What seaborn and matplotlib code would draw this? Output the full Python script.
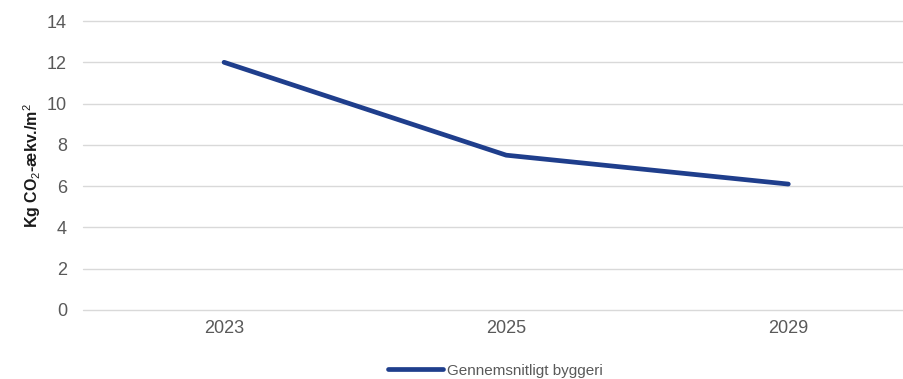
import matplotlib
matplotlib.use("Agg")
import matplotlib.pyplot as plt
import seaborn as sns
import pandas as pd
from matplotlib.lines import Line2D

years = ["2023", "2025", "2029"]
values = [12.0, 7.5, 6.1]
series_name = "Gennemsnitligt byggeri"

sns.set_theme(style="white")
plt.rcParams['font.family'] = ['Liberation Sans', 'DejaVu Sans']
plt.rcParams['mathtext.fontset'] = 'custom'
plt.rcParams['mathtext.rm'] = 'Liberation Sans'
plt.rcParams['mathtext.it'] = 'Liberation Sans'
plt.rcParams['mathtext.bf'] = 'Liberation Sans:bold'

df = pd.DataFrame({"pos": range(len(years)), "value": values, "serie": series_name})

fig = plt.figure(figsize=(9.04, 3.79), dpi=100)
ax = fig.add_axes([83/904, 69/379, 1 - 83/904, (310-21)/379])

sns.lineplot(data=df, x="pos", y="value", hue="serie", palette=["#1F3E8C"],
             linewidth=3.4, ax=ax, legend=False, solid_capstyle="round")

ax.set_xlim(-0.5, 2.41)
ax.set_ylim(0, 14)
ax.set_yticks(range(0, 15, 2))
ax.set_xticks(range(len(years)))
ax.set_xticklabels(years)
ax.grid(axis="y", color="#d9d9d9", linewidth=1)
for gl in ax.yaxis.get_gridlines():
    gl.set_clip_on(False)
ax.set_axisbelow(True)
for s in ax.spines.values():
    s.set_visible(False)
ax.tick_params(axis="both", length=0, labelsize=13, labelcolor="#595959")
ax.tick_params(axis="y", pad=11.5)
ax.tick_params(axis="x", pad=7)
ax.set_xlabel("")
ax.set_ylabel(r"Kg CO$_2$-ækv./m$^2$", fontsize=11.5, fontweight="bold", color="#1a1a1a", labelpad=2.5)

h = [Line2D([0], [0], color="#1F3E8C", linewidth=3.4, solid_capstyle="round")]
fig.legend(h, [series_name], loc="center", bbox_to_anchor=(0.548, 0.022), frameon=False,
           fontsize=11, labelcolor="#595959", handlelength=3.6, handletextpad=0.2)

fig.savefig("out.png", dpi=100)
